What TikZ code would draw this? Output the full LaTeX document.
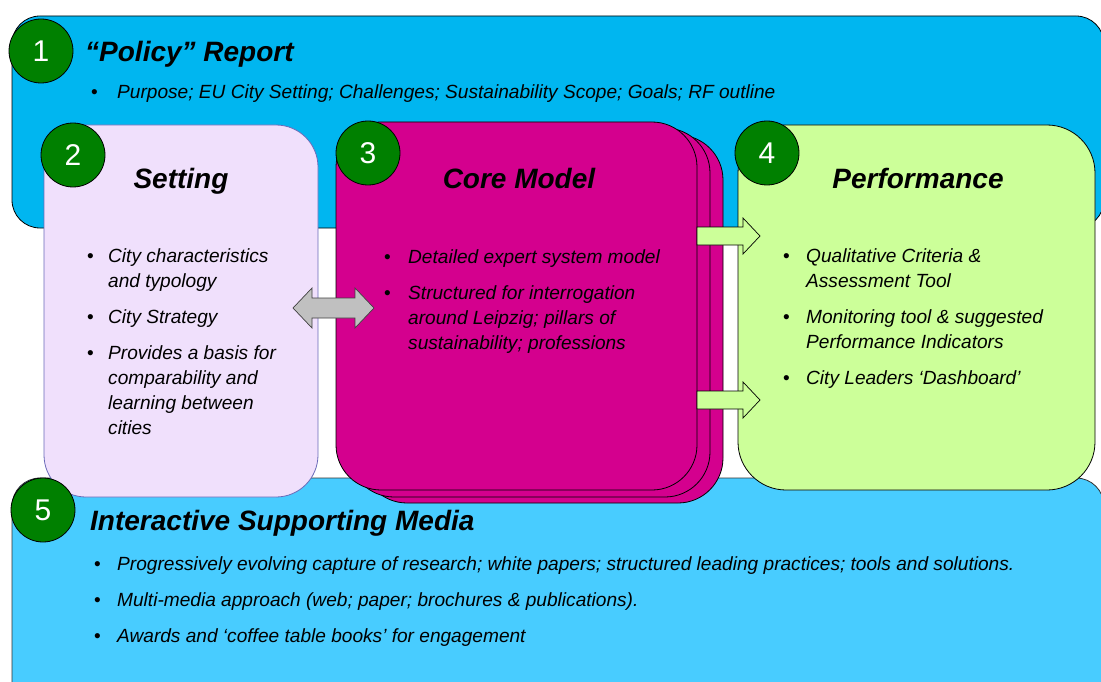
\documentclass[tikz,border=0pt]{standalone}
\usepackage{fontspec}
\setmainfont{Liberation Sans}
\definecolor{topblue}{HTML}{00B6F0}
\definecolor{botblue}{HTML}{48CCFF}
\definecolor{lav}{HTML}{F0E0FC}
\definecolor{lavline}{HTML}{6A6AB8}
\definecolor{magenta}{HTML}{D4008E}
\definecolor{lime}{HTML}{CCFF99}
\definecolor{badgegreen}{HTML}{008000}
\definecolor{arrgray}{HTML}{C0C0C0}
\begin{document}
\begin{tikzpicture}[x=1pt,y=-1pt,
  panel/.style={draw=black, line width=0.8pt},
  badge/.style={circle, fill=badgegreen, draw=black, line width=0.8pt, minimum size=64pt, inner sep=0pt, text=white, font=\fontsize{30}{30}\selectfont},
  ttl/.style={font=\fontsize{28}{32}\selectfont\bfseries\itshape, inner sep=0pt, anchor=base},
  itm/.style={font=\fontsize{19.1}{25}\selectfont\itshape, inner sep=0pt, anchor=base west, align=left},
  bul/.style={font=\fontsize{19.1}{25}\selectfont, inner sep=0pt, anchor=base west},
  blockarrow/.style={draw=black, line width=0.7pt, fill=lime},
  grayarrow/.style={draw=black!75, line width=0.7pt, fill=arrgray}]
\useasboundingbox (0,0) rectangle (1101,682);
% panel 1 and 5
\draw[panel, fill=topblue, rounded corners=28pt] (12,16) rectangle (1104,228);
\draw[panel, draw=black!80, fill=botblue, rounded corners=28pt] (12,478) rectangle (1104,720);
% setting box
\draw[line width=0.8pt, draw=lavline, fill=lav, rounded corners=42pt] (44,125) rectangle (318,497);
% core model stack
\draw[panel, fill=magenta, rounded corners=45pt] (362,135) rectangle (723,503);
\draw[panel, fill=magenta, rounded corners=45pt] (349,128) rectangle (710,497);
\draw[panel, fill=magenta, rounded corners=45pt] (336,122) rectangle (697,490);
% performance
\draw[panel, fill=lime, rounded corners=48pt] (738,125) rectangle (1095,490);
% block arrows
\draw[blockarrow] (697,227) -- (743,227) -- (743,218) -- (760,236) -- (743,254) -- (743,245) -- (697,245) -- cycle;
\draw[blockarrow] (697,391) -- (743,391) -- (743,382) -- (760,400) -- (743,418) -- (743,409) -- (697,409) -- cycle;
\draw[grayarrow] (293,308) -- (312,288) -- (312,298) -- (355,298) -- (355,288) -- (374,308) -- (355,328) -- (355,318) -- (312,318) -- (312,328) -- cycle;
% badges
\node[badge] (b1) at (41,51) {1};
\node[badge] (b2) at (73,155) {2};
\node[badge] (b3) at (368,153) {3};
\node[badge] (b4) at (767,153) {4};
\node[badge] (b5) at (43,510) {5};
% titles
\node[ttl, anchor=base west] (t1) at (85,62) {“Policy” Report};
\node[ttl] (t2) at (181,189) {Setting};
\node[ttl] (t3) at (519,189) {Core Model};
\node[ttl] (t4) at (918,189) {Performance};
\node[ttl, anchor=base west] (t5) at (90,530) {Interactive Supporting Media};
% panel 1 bullet
\node[bul] (p1b1) at (91,99) {•};
\node[itm] (p1i1) at (117,99) {Purpose; EU City Setting; Challenges; Sustainability Scope; Goals; RF outline};
% setting bullets (multi-line nodes: base = last line)
\node[bul] (sb1) at (87,262) {•};
\node[itm] (si1) at (108,287) {City characteristics\\and typology};
\node[bul] (sb2) at (87,323) {•};
\node[itm] (si2) at (108,323) {City Strategy};
\node[bul] (sb3) at (87,359) {•};
\node[itm] (si3) at (108,434) {Provides a basis for\\comparability and\\learning between\\cities};
% core bullets
\node[bul] (cb1) at (384,263) {•};
\node[itm] (ci1) at (408,263) {Detailed expert system model};
\node[bul] (cb2) at (384,299) {•};
\node[itm] (ci2) at (408,349) {Structured for interrogation\\around Leipzig; pillars of\\sustainability; professions};
% performance bullets
\node[bul] (pb1) at (783,262) {•};
\node[itm] (pi1) at (806,287) {Qualitative Criteria \&\\Assessment Tool};
\node[bul] (pb2) at (783,323) {•};
\node[itm] (pi2) at (806,348) {Monitoring tool \& suggested\\Performance Indicators};
\node[bul] (pb3) at (783,384) {•};
\node[itm] (pi3) at (806,384) {City Leaders ‘Dashboard’};
% panel 5 bullets
\node[bul] (mb1) at (94,570) {•};
\node[itm] (mi1) at (117,570) {Progressively evolving capture of research; white papers; structured leading practices; tools and solutions.};
\node[bul] (mb2) at (94,606) {•};
\node[itm] (mi2) at (117,606) {Multi-media approach (web; paper; brochures \& publications).};
\node[bul] (mb3) at (94,642) {•};
\node[itm] (mi3) at (117,642) {Awards and ‘coffee table books’ for engagement};
\end{tikzpicture}
\end{document}
